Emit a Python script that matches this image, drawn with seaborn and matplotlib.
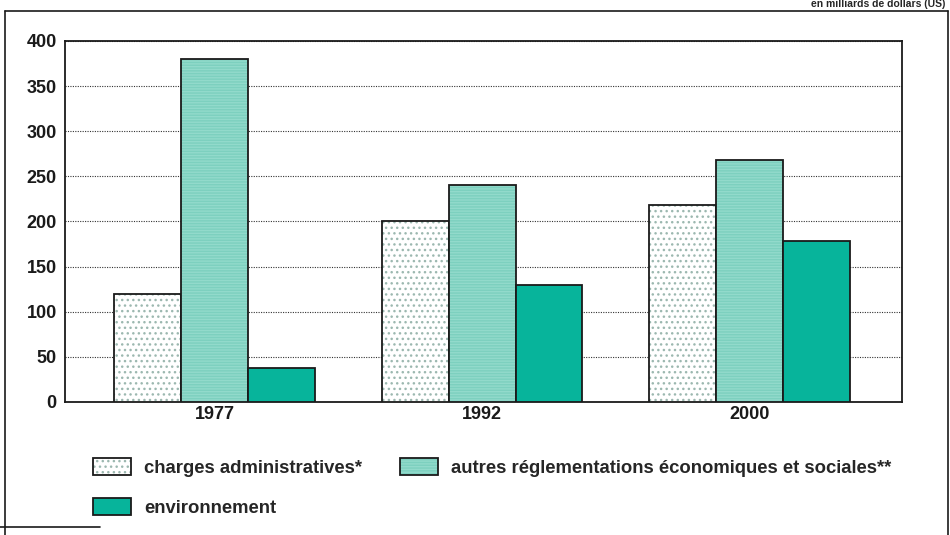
import matplotlib
matplotlib.use("Agg")
import matplotlib.pyplot as plt
import seaborn as sns
import pandas as pd
from matplotlib.colors import to_rgba
from matplotlib.lines import Line2D

# ---- data ----
years = ["1977", "1992", "2000"]
categories = [
    "charges administratives*",
    "autres réglementations économiques et sociales**",
    "environnement",
]
charges = [120, 200, 218]
autres = [380, 240, 268]
environnement = [38, 130, 178]
yticks = [0, 50, 100, 150, 200, 250, 300, 350, 400]
unit_label = "en milliards de dollars (US)"

colors = ["#ffffff", "#92dacb", "#07b49b"]

rows = []
for cat, vals in zip(categories, [charges, autres, environnement]):
    for y, v in zip(years, vals):
        rows.append({"année": y, "valeur": v, "catégorie": cat})
df = pd.DataFrame(rows)

sns.set_theme(style="white")
plt.rcParams["font.family"] = ["Liberation Sans", "DejaVu Sans"]
plt.rcParams["hatch.linewidth"] = 1.0

fig = plt.figure(figsize=(9.5, 5.35), dpi=100)
ax = fig.add_axes([0.0684, 0.2486, 0.8811, 0.6748])

sns.barplot(data=df, x="année", y="valeur", hue="catégorie", order=years,
            hue_order=categories, palette=colors, saturation=1, width=0.75,
            edgecolor="#1a1a1a", linewidth=1.3, ax=ax, legend=False, zorder=3)

# textures
n = len(years)
for i, p in enumerate(ax.patches):
    grp = i // n
    if grp == 0:
        p.set_hatch("...")
        p._hatch_color = to_rgba("#9cb8b0")
    elif grp == 1:
        p.set_hatch("------")
        p._hatch_color = to_rgba("#7dd0bf")

ax.set_ylim(0, 400)
ax.set_xlim(-0.56, 2.57)
ax.set_yticks(yticks)
ax.set_yticklabels([str(t) for t in yticks], fontweight="bold", fontsize=13)
ax.set_xticks(range(len(years)))
ax.set_xticklabels(years, fontweight="bold", fontsize=13)
ax.set_xlabel("")
ax.set_ylabel("")
ax.tick_params(axis="y", direction="in", length=14, width=1.2, pad=6, colors="#1a1a1a")
ax.tick_params(axis="x", length=0, pad=3, colors="#1a1a1a")
ax.yaxis.grid(True, linestyle=(0, (1, 1.2)), color="#333333", linewidth=0.8, zorder=0)
ax.xaxis.grid(False)
ax.set_axisbelow(True)
for s in ax.spines.values():
    s.set_visible(True)
    s.set_color("#1a1a1a")
    s.set_linewidth(1.3)

# legend
h = ax.patches
handles = [h[0], h[2 * n], h[n]]
labels = [categories[0], categories[2], categories[1]]
fig.legend(handles, labels, ncol=2, loc="upper left", bbox_to_anchor=(0.098, 0.143),
           frameon=False, prop={"weight": "bold", "size": 13.3}, handlelength=2.05,
           handleheight=1.0, handletextpad=0.72, columnspacing=2.05, labelspacing=1.15,
           borderpad=0, borderaxespad=0)

# outer frame
for xs, ys in [([0.005, 0.005], [0.0, 0.979]), ([0.005, 0.998], [0.979, 0.979]),
               ([0.998, 0.998], [0.0, 0.979]), ([0.0, 0.105], [0.015, 0.015])]:
    fig.add_artist(Line2D(xs, ys, transform=fig.transFigure, color="#1a1a1a", linewidth=1.2))

fig.text(0.995, 0.983, unit_label, ha="right", va="bottom", fontsize=7.5, fontweight="bold")

fig.savefig("out.png", dpi=100)
